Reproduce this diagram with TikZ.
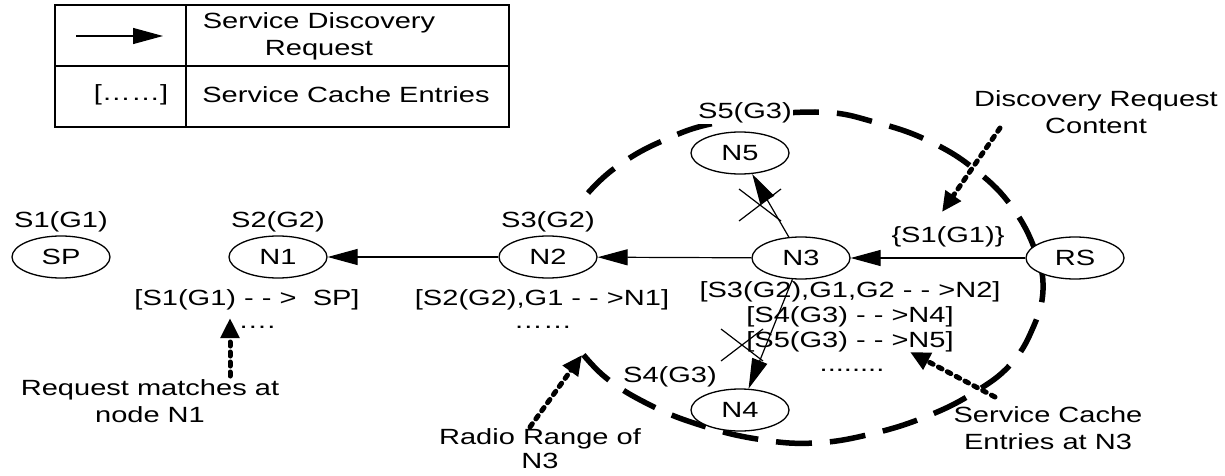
\documentclass[tikz,border=0pt]{standalone}
\usepackage{fontspec}
\setmainfont{Liberation Sans}[FakeStretch=1.32]
\usetikzlibrary{arrows.meta,shapes.geometric}
\begin{document}
\begin{tikzpicture}[x=1pt,y=-1pt,
  font=\fontsize{22}{27}\selectfont,
  nd/.style={draw,ellipse,line width=1.3pt,minimum width=98pt,minimum height=42pt,inner sep=0pt,fill=white},
  lbl/.style={inner sep=1pt,fill=white},
  req/.style={line width=1.2pt,-{Triangle[length=30pt,width=16pt]}},
  note/.style={line width=5pt,dash pattern=on 4pt off 6pt,line cap=round,-{Triangle[length=20pt,width=18pt]}},
  radiorange/.style={line width=5.5pt,dash pattern=on 36pt off 18pt},
  xmark/.style={line width=1.2pt}]
\useasboundingbox (0,0) rectangle (1225,476);
% radio range (open on the left, where the reference shows no dashes)
\draw[radiorange] plot[smooth,tension=0.7] coordinates {(588,193) (615,168) (660,142) (720,122) (815,112) (878,123) (933,143) (978,172) (1012,207) (1035,250) (1043,290) (1032,330) (1010,365) (975,392) (930,415) (875,433) (815,443) (757,439) (700,425) (650,405) (605,377) (574,343)};
% legend
\draw[line width=1.2pt] (55,5) rectangle (509,127);
\draw[line width=1.2pt] (186,5) -- (186,127);
\draw[line width=1.2pt] (55,66) -- (509,66);
\coordinate (la) at (76,36);
\coordinate (lb) at (163,36);
\draw[req] (la) -- (lb);
\node[align=center] (t1) at (319,36) {Service Discovery\\Request};
\node (t2) at (131,95) {[\dots\dots]};
\node (t3) at (346,95) {Service Cache Entries};
% nodes
\node[nd] (SP) at (61,257) {SP};
\node[nd] (N1) at (278,257) {N1};
\node[nd] (N2) at (548,257) {N2};
\node[nd] (N3) at (801,258) {N3};
\node[nd] (RS) at (1075,258) {RS};
\node[nd] (N5) at (740,153) {N5};
\node[nd] (N4) at (740,410) {N4};
\node[lbl] (lSP) at (61,222) {S1(G1)};
\node[lbl] (lN1) at (278,222) {S2(G2)};
\node[lbl] (lN2) at (548,222) {S3(G2)};
\node[lbl] (lN5) at (745,113) {S5(G3)};
\node[lbl] (lN4) at (670,377) {S4(G3)};
\node[lbl] (cont) at (948,237) {\{S1(G1)\}};
% cache entries
\node[lbl] (c1) at (247,300) {[S1(G1) - - >\ \ SP]};
\node[lbl] (c1d) at (257,327) {\dots.};
\node[lbl] (c2) at (542,300) {[S2(G2),G1 - - >N1]};
\node[lbl] (c2d) at (543,327) {\dots\dots};
\node[lbl] (c3) at (850,292) {[S3(G2),G1,G2 - - >N2]};
\node[lbl] (c4) at (850,317) {[S4(G3) - - >N4]};
\node[lbl] (c5) at (850,342) {[S5(G3) - - >N5]};
\node[lbl] (c5d) at (852,370) {........};
% annotations
\node[align=center] (a1) at (150,401) {Request matches at\\node N1};
\node[align=center,font=\fontsize{22}{24}\selectfont] (a2) at (540,449) {Radio Range of\\N3};
\node[align=center] (a3) at (1048,428) {Service Cache\\Entries at N3};
\node[align=center] (a4) at (1096,112) {Discovery Request\\Content};
% requests
\draw[req] (RS) -- (N3);
\draw[req] (N3) -- (N2);
\draw[req] (N2) -- (N1);
\draw[req] (N3) -- (N5);
\draw[req] (N3) -- (N4);
% crosses
\coordinate (x1) at (760,205);
\coordinate (x2) at (742,345);
\draw[xmark] ([shift={(-21,16)}]x1) -- ([shift={(21,-16)}]x1);
\draw[xmark] ([shift={(-21,-16)}]x1) -- ([shift={(21,16)}]x1);
\draw[xmark] ([shift={(-21,16)}]x2) -- ([shift={(21,-16)}]x2);
\draw[xmark] ([shift={(-21,-16)}]x2) -- ([shift={(21,16)}]x2);
% note arrows
\coordinate (p1) at (230,376);
\coordinate (q1) at (230,318);
\draw[note] (p1) -- (q1);
\coordinate (p2) at (530,427);
\coordinate (q2) at (582,355);
\draw[note] (p2) -- (q2);
\coordinate (p3) at (995,397);
\coordinate (q3) at (910,352);
\draw[note] (p3) -- (q3);
\coordinate (p4) at (1000,128);
\coordinate (q4) at (942,212);
\draw[note] (p4) -- (q4);
\end{tikzpicture}
\end{document}
